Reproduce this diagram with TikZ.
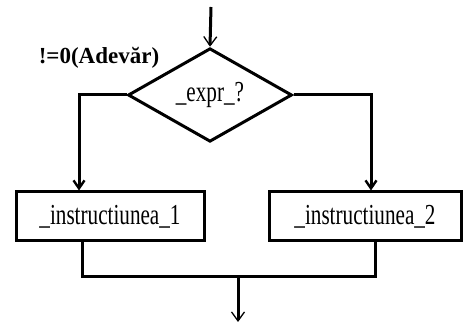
\documentclass[tikz,border=0pt]{standalone}
\usepackage{fontspec}
\setmainfont{Liberation Serif}
\usetikzlibrary{shapes.geometric,arrows.meta}

\tikzset{
	instr/.style={draw,line width=3pt,minimum width=188pt,minimum height=49pt,inner sep=0pt,font=\fontsize{29}{29}\selectfont},
	cond/.style={draw,diamond,line width=3pt,minimum width=164pt,minimum height=90pt,inner sep=0pt,font=\fontsize{29}{29}\selectfont},
	flow/.style={line width=3pt},
	thinhead/.style={-{Straight Barb[length=9pt,width=13pt,line width=1.3pt]}},
	fathead/.style={-{Straight Barb[length=8pt,width=11pt,line width=2.4pt]}}
}
\newcommand{\narrowtxt}[1]{\scalebox{0.73}[1]{#1}}

\begin{document}
\begin{tikzpicture}[x=1pt,y=-1pt]
	\useasboundingbox (0,0) rectangle (467,329);
	\node[cond] (expr) at (210,95) {\narrowtxt{\_expr\_?}};
	\node[instr] (instr1) at (110,216.5) {\narrowtxt{\_instructiunea\_1}};
	\node[instr,minimum width=192pt] (instr2) at (365,216.5) {\narrowtxt{\_instructiunea\_2}};
	\node[font=\bfseries\fontsize{23}{23}\selectfont] (yes) at (99,58) {!=0(Adevăr)};
	\coordinate (in) at (211,7);
	\coordinate (join) at (238,277);
	\coordinate (out) at (238,322);
	\draw[flow,thinhead] (in) -- (expr.north);
	\draw[flow,fathead] (expr.west) -| ([xshift=-31pt]instr1.north);
	\draw[flow,fathead] (expr.east) -| ([xshift=6pt]instr2.north);
	\draw[flow] ([xshift=-28pt]instr1.south) |- (join) -| ([xshift=10pt]instr2.south);
	\draw[flow,thinhead] (join) -- (out);
\end{tikzpicture}
\end{document}
